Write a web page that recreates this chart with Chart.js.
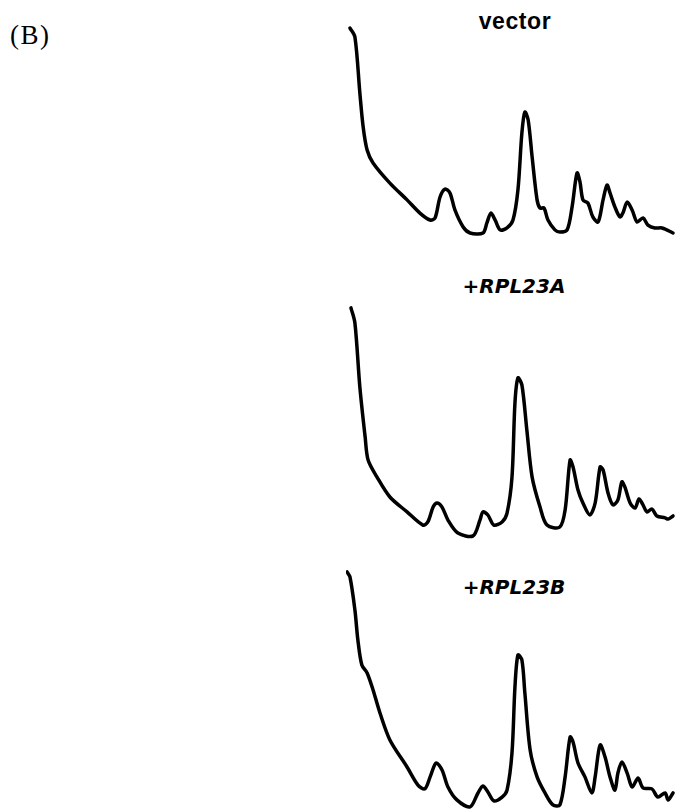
<!DOCTYPE html>
<html>
<head>
<meta charset="utf-8">
<script src="https://cdn.jsdelivr.net/npm/chart.js@4.4.0/dist/chart.umd.min.js"></script>
<style>
  html, body { margin: 0; padding: 0; background: #fff; }
  body { width: 676px; height: 810px; position: relative; overflow: hidden; }
  .panel { position: absolute; left: 346px; width: 330px; height: 240px; }
  .title { position: absolute; left: 415px; width: 200px; text-align: center; color: #000; white-space: nowrap; line-height: 1; }
  #tVector { font: bold 23px "Liberation Sans", Arial, sans-serif; letter-spacing: 0.6px; top: 8px; }
  .gene { font: oblique bold 20px "DejaVu Sans", Verdana, sans-serif; }
  #tA { top: 274px; left: 414px; }
  #tB { top: 575px; left: 414px; }
  #panelLabel { position: absolute; left: 10px; top: 22px; font: 27px/1 "Liberation Serif", "Times New Roman", serif; letter-spacing: 1.5px; color: #000; }
</style>
</head>
<body>
<div id="panelLabel">(B)</div>
<div class="title" id="tVector"></div>
<div class="title gene" id="tA"></div>
<div class="title gene" id="tB"></div>
<canvas class="panel" id="c0" width="330" height="240" style="top:5px"></canvas>
<canvas class="panel" id="c1" width="330" height="240" style="top:305px"></canvas>
<canvas class="panel" id="c2" width="330" height="240" style="top:570px"></canvas>
<script>
// Sucrose gradient polysome profiles: position along gradient (%) vs A254 (a.u.)
const profileTitles = ["vector", "+RPL23A", "+RPL23B"];

const posVector = [1.2, 2.7, 4.2, 5.2, 6.4, 8.2, 13.3, 18.5, 22.4, 25.5, 27.0, 28.5, 30.0, 31.5, 33.0, 35.5, 37.6, 41.5, 42.7, 43.9, 45.2, 46.7, 48.8, 50.6, 52.1, 53.3, 54.2, 55.2, 56.4, 57.9, 58.8, 60.0, 61.2, 63.3, 64.8, 67.0, 68.5, 70.0, 70.9, 71.8, 73.3, 74.8, 76.4, 77.9, 79.1, 80.0, 81.5, 83.0, 83.9, 85.2, 86.7, 88.2, 90.0, 91.5, 93.6, 95.8, 99.1];
const absVector = [0.904, 0.867, 0.633, 0.492, 0.396, 0.342, 0.258, 0.188, 0.133, 0.104, 0.113, 0.200, 0.233, 0.217, 0.146, 0.075, 0.050, 0.050, 0.092, 0.133, 0.104, 0.063, 0.071, 0.104, 0.229, 0.467, 0.554, 0.521, 0.367, 0.188, 0.154, 0.154, 0.104, 0.063, 0.054, 0.063, 0.158, 0.300, 0.263, 0.188, 0.175, 0.117, 0.096, 0.188, 0.250, 0.217, 0.158, 0.117, 0.133, 0.179, 0.146, 0.096, 0.113, 0.083, 0.071, 0.071, 0.050];

const posA = [1.5, 2.7, 4.2, 5.8, 6.7, 9.4, 13.3, 18.5, 23.3, 24.8, 26.4, 27.6, 29.1, 30.9, 33.9, 38.5, 40.6, 41.5, 43.0, 44.8, 47.3, 48.8, 50.3, 51.2, 52.1, 53.3, 54.8, 56.4, 58.8, 60.9, 64.8, 66.4, 67.9, 68.8, 70.3, 71.8, 73.9, 75.5, 77.0, 77.9, 79.4, 80.9, 82.4, 83.6, 84.5, 86.1, 87.6, 88.8, 90.0, 91.2, 92.7, 94.2, 96.7, 97.6, 99.1];
const absA = [0.988, 0.925, 0.658, 0.450, 0.354, 0.283, 0.200, 0.138, 0.083, 0.096, 0.158, 0.175, 0.158, 0.104, 0.050, 0.038, 0.104, 0.138, 0.125, 0.083, 0.096, 0.133, 0.283, 0.592, 0.696, 0.667, 0.479, 0.283, 0.158, 0.083, 0.075, 0.146, 0.354, 0.325, 0.229, 0.175, 0.125, 0.175, 0.325, 0.313, 0.217, 0.167, 0.188, 0.263, 0.242, 0.175, 0.154, 0.192, 0.167, 0.138, 0.150, 0.121, 0.113, 0.108, 0.121];

const posB = [0.3, 1.2, 2.7, 3.6, 4.8, 6.4, 8.2, 10.3, 13.3, 18.5, 21.8, 23.9, 25.5, 27.3, 29.1, 30.9, 33.6, 37.6, 40.0, 41.5, 43.0, 44.8, 47.3, 48.8, 50.3, 51.2, 52.1, 53.3, 54.2, 55.8, 57.9, 60.3, 62.7, 64.8, 66.4, 67.9, 68.8, 70.3, 72.4, 74.5, 75.5, 77.0, 78.5, 80.0, 81.5, 82.4, 83.6, 85.2, 86.7, 88.5, 90.0, 92.7, 94.5, 96.7, 97.6, 99.1];
const absB = [0.992, 0.971, 0.833, 0.708, 0.604, 0.571, 0.500, 0.404, 0.292, 0.179, 0.104, 0.088, 0.138, 0.196, 0.167, 0.096, 0.042, 0.013, 0.071, 0.100, 0.075, 0.038, 0.054, 0.083, 0.238, 0.513, 0.646, 0.625, 0.488, 0.250, 0.138, 0.071, 0.021, 0.021, 0.138, 0.304, 0.283, 0.196, 0.138, 0.071, 0.138, 0.271, 0.221, 0.138, 0.083, 0.154, 0.200, 0.154, 0.096, 0.133, 0.092, 0.088, 0.054, 0.071, 0.042, 0.071];

document.getElementById("tVector").textContent = profileTitles[0];
document.getElementById("tA").textContent = profileTitles[1];
document.getElementById("tB").textContent = profileTitles[2];

function drawProfile(canvasId, xs, ys) {
  const points = xs.map((x, i) => ({ x: x, y: ys[i] }));
  new Chart(document.getElementById(canvasId), {
    type: "line",
    data: {
      datasets: [{
        data: points,
        borderColor: "#000",
        borderWidth: 3.5,
        pointRadius: 0,
        tension: 0.3,
        fill: false,
        clip: false,
        borderJoinStyle: "round",
        borderCapStyle: "round"
      }]
    },
    options: {
      responsive: false,
      animation: false,
      events: [],
      layout: { padding: 0 },
      plugins: { legend: { display: false }, tooltip: { enabled: false }, title: { display: false } },
      scales: {
        x: { type: "linear", min: 0, max: 100, display: false },
        y: { min: 0, max: 1, display: false }
      }
    }
  });
}

drawProfile("c0", posVector, absVector);
drawProfile("c1", posA, absA);
drawProfile("c2", posB, absB);
</script>
</body>
</html>
